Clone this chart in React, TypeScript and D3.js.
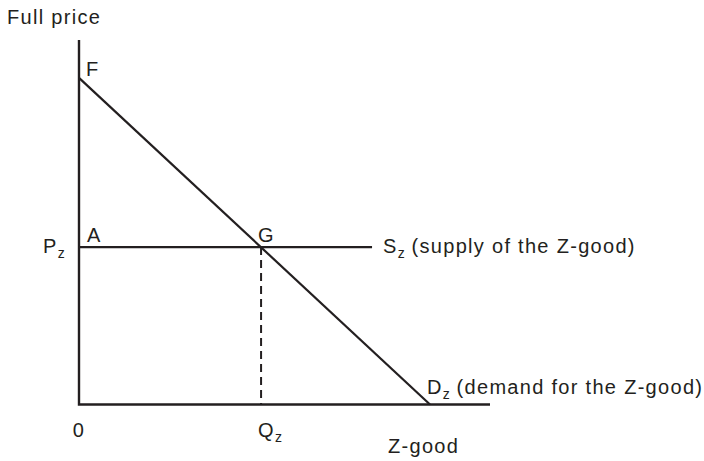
import React from "react";
import * as d3 from "d3";

// Data (model units)
const axisMax = [10, 10]; // x max, y max
const demandX = [0, 8.54];
const demandY = [8.96, 0];
const supplyX = [0, 7.13];
const supplyY = [4.32, 4.32];
const eqQ = 4.43;
const eqP = 4.32;
const labels = {
  yTitle: "Full price",
  xTitle: "Z-good",
  F: "F",
  A: "A",
  G: "G",
  zero: "0",
};

const W = 704;
const H = 461;
const INK = "#231f20";
const FONT = "'Liberation Sans', Arial, Helvetica, sans-serif";

export default function App() {
  const x = d3.scaleLinear().domain([0, axisMax[0]]).range([79, 490]);
  const y = d3.scaleLinear().domain([0, axisMax[1]]).range([404.5, 40]);
  const line = d3
    .line<[number, number]>()
    .x((d) => x(d[0]))
    .y((d) => y(d[1]));

  const demand: [number, number][] = demandX.map((v, i) => [v, demandY[i]]);
  const supply: [number, number][] = supplyX.map((v, i) => [v, supplyY[i]]);

  const txt = {
    fontFamily: FONT,
    fontSize: 20,
    letterSpacing: 1.3,
    fill: INK,
  } as React.CSSProperties;
  const sub = { fontSize: 14, letterSpacing: 0 } as React.CSSProperties;

  return (
    <svg
      width={W}
      height={H}
      style={{ position: "absolute", left: 0, top: 0, background: "#fff" }}
    >
      {/* axes */}
      <path
        d={line([
          [0, axisMax[1]],
          [0, 0],
          [axisMax[0], 0],
        ])!}
        fill="none"
        stroke={INK}
        strokeWidth={2.4}
      />
      {/* demand */}
      <path d={line(demand)!} fill="none" stroke={INK} strokeWidth={2.2} />
      {/* supply */}
      <path d={line(supply)!} fill="none" stroke={INK} strokeWidth={2.2} />
      {/* dashed */}
      <path
        d={line([
          [eqQ, eqP],
          [eqQ, 0],
        ])!}
        fill="none"
        stroke={INK}
        strokeWidth={2}
        strokeDasharray="8,5"
      />

      <g style={txt}>
        <text x={7} y={24}>{labels.yTitle}</text>
        <text x={x(0) + 7} y={y(demandY[0]) - 2}>{labels.F}</text>
        <text x={x(0) + 8} y={y(eqP) - 5}>{labels.A}</text>
        <text x={x(eqQ) - 3} y={y(eqP) - 5}>{labels.G}</text>
        <text x={43} y={y(eqP) + 6}>
          P<tspan dy={5} style={sub}>z</tspan>
        </text>
        <text x={x(supplyX[1]) + 11} y={y(eqP) + 6}>
          S<tspan dy={5} style={sub}>z</tspan>
          <tspan dy={-5}> (supply of the Z-good)</tspan>
        </text>
        <text x={x(demandX[1]) - 3} y={y(0) - 11}>
          D<tspan dy={5} style={sub}>z</tspan>
          <tspan dy={-5}> (demand for the Z-good)</tspan>
        </text>
        <text x={x(0)} y={437} textAnchor="middle">{labels.zero}</text>
        <text x={x(eqQ) - 3} y={437}>
          Q<tspan dy={5} style={sub}>z</tspan>
        </text>
        <text x={388} y={453}>{labels.xTitle}</text>
      </g>
    </svg>
  );
}
